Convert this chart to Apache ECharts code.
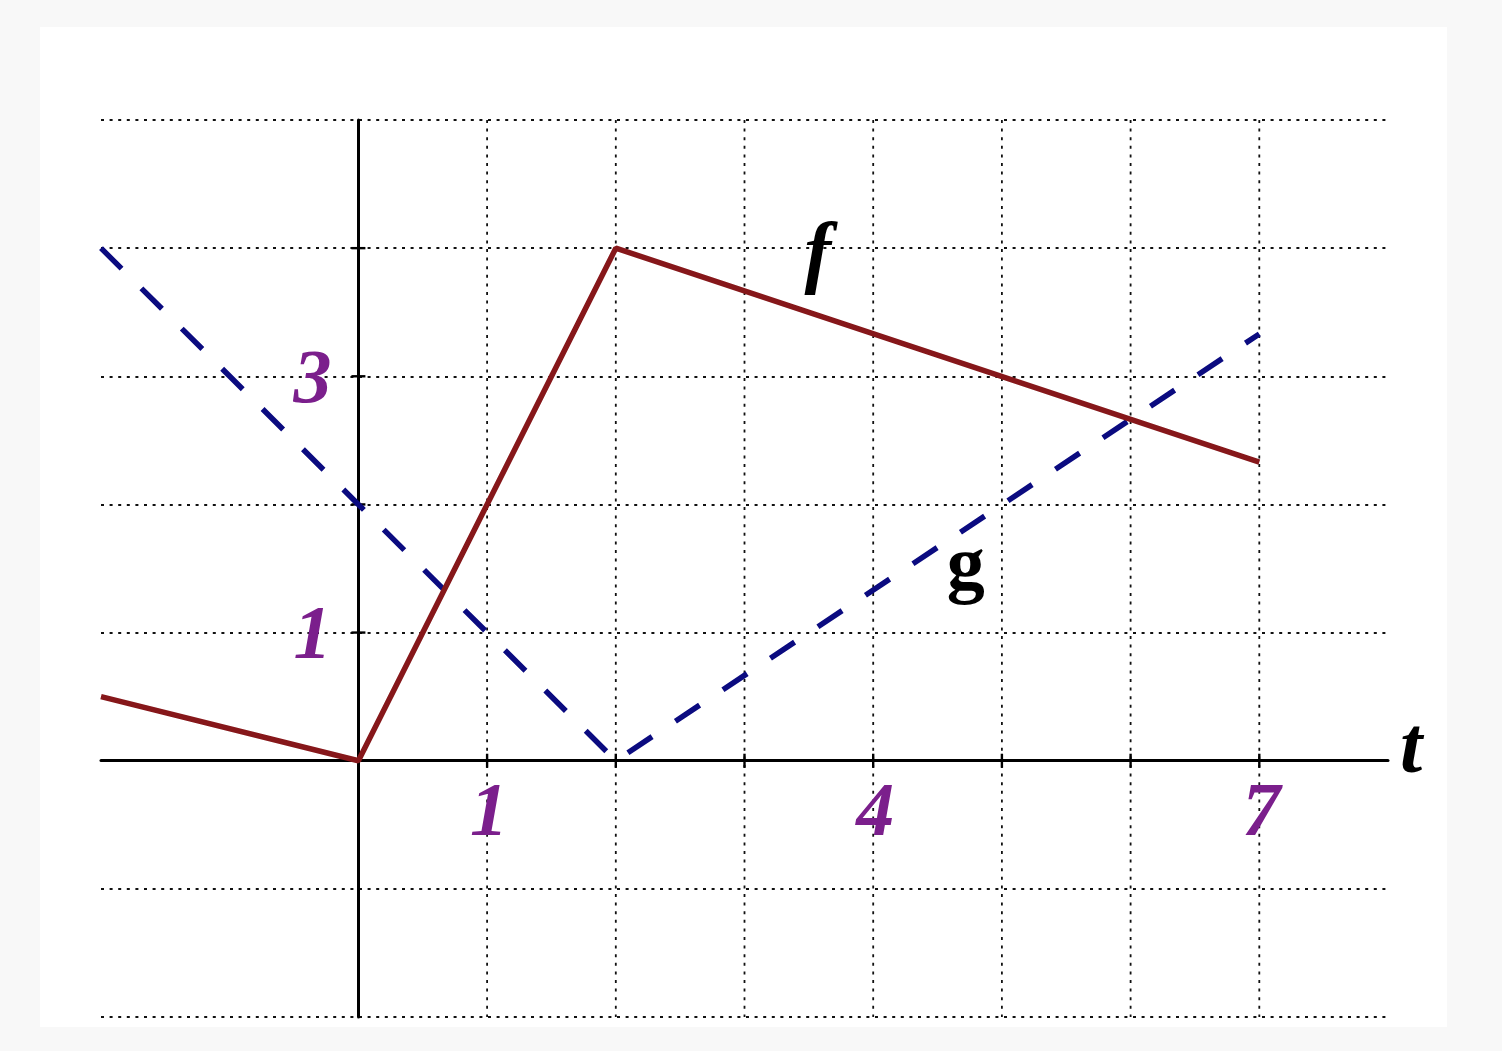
<!DOCTYPE html>
<html>
<head>
<meta charset="utf-8">
<script src="https://cdn.jsdelivr.net/npm/echarts@6/dist/echarts.min.js"></script>
<style>
html,body{margin:0;padding:0;width:1502px;height:1051px;background:#f8f8f8;overflow:hidden;}
#panel{position:absolute;left:40px;top:27px;width:1407px;height:1000px;background:#ffffff;}
#chart{position:absolute;left:0;top:0;width:1502px;height:1051px;}
</style>
</head>
<body>
<div id="panel"></div>
<div id="chart"></div>
<script>
// ---- data ----
const fX = [-2, 0, 2, 7];
const fY = [0.5, 0, 4, 2.33];
const gX = [-2, 0, 2, 7];
const gY = [4, 2, 0, 3.33];
const xLabeled = [1, 4, 7];
const yLabeled = [1, 3];
const xGridLines = [1, 2, 3, 4, 5, 6, 7];
const xTicks = [1, 2, 3, 4, 5, 6, 7];
const yTicks = [1, 2, 3, 4];
const annoText = ['f', 'g', 't'];
const annoX = [3.57, 4.72, 8.18];
const annoY = [3.93, 1.49, 0.07];
const xMin = -2, xMax = 8, yMin = -2, yMax = 5;

// ---- styles ----
const purple = '#7b1f8c';
const labelFont = {fontFamily: 'Liberation Serif', fontStyle: 'italic', fontWeight: 'bold', fontSize: 76, color: purple};
const annoStyles = [
  {fontFamily: 'Liberation Serif', fontStyle: 'italic', fontWeight: 'bold', fontSize: 80, color: '#000'},
  {fontFamily: 'Liberation Serif', fontStyle: 'normal', fontWeight: 'bold', fontSize: 76, color: '#000'},
  {fontFamily: 'Liberation Serif', fontStyle: 'italic', fontWeight: 'bold', fontSize: 80, color: '#000'}
];
const dotted = {stroke: '#111', lineWidth: 1.8, lineDash: [3, 5.6]};

const chart = echarts.init(document.getElementById('chart'), null, {renderer: 'canvas'});

const option = {
  animation: false,
  backgroundColor: 'transparent',
  grid: {left: 101, right: 114, top: 120, bottom: 34, containLabel: false, outerBoundsMode: 'none'},
  xAxis: {
    type: 'value', min: xMin, max: xMax, interval: 1,
    axisLine: {show: true, onZero: true, lineStyle: {color: '#000', width: 3}},
    axisTick: {show: false},
    splitLine: {show: false},
    axisLabel: {show: false}
  },
  yAxis: {
    type: 'value', min: yMin, max: yMax, interval: 1,
    axisLine: {show: true, onZero: true, lineStyle: {color: '#000', width: 3}},
    axisTick: {show: false},
    splitLine: {show: true, lineStyle: {color: '#111', width: 1.8, type: [3, 5.6]}},
    axisLabel: {show: false}
  },
  series: [
    {
      type: 'custom', z: 1, silent: true,
      data: xGridLines.map(x => [x]),
      renderItem: (params, api) => {
        const x = api.value(0);
        const p1 = api.coord([x, yMax]);
        const p2 = api.coord([x, yMin]);
        return {type: 'line', shape: {x1: p1[0], y1: p1[1], x2: p2[0], y2: p2[1]}, style: dotted};
      }
    },
    {
      type: 'custom', z: 3, silent: true,
      data: xTicks.map(x => [x, 0]),
      renderItem: (params, api) => {
        const p = api.coord([api.value(0), api.value(1)]);
        return {type: 'line', shape: {x1: p[0], y1: p[1] - 7, x2: p[0], y2: p[1] + 7}, style: {stroke: '#000', lineWidth: 2.4}};
      }
    },
    {
      type: 'custom', z: 3, silent: true,
      data: yTicks.map(y => [0, y]),
      renderItem: (params, api) => {
        const p = api.coord([api.value(0), api.value(1)]);
        return {type: 'line', shape: {x1: p[0] - 7, y1: p[1], x2: p[0] + 7, y2: p[1]}, style: {stroke: '#000', lineWidth: 2.4}};
      }
    },
    {
      name: 'f', type: 'line', z: 5, showSymbol: false, silent: true,
      data: fX.map((x, i) => [x, fY[i]]),
      lineStyle: {color: '#86171a', width: 5.5}
    },
    {
      name: 'g', type: 'line', z: 4, showSymbol: false, silent: true,
      data: gX.map((x, i) => [x, gY[i]]),
      lineStyle: {color: '#0b0b80', width: 5.5, type: [29, 28], cap: 'butt'}
    },
    {
      // x tick labels
      type: 'scatter', z: 6, silent: true, symbolSize: 0, clip: false, itemStyle: {opacity: 1},
      data: xLabeled.map(v => ({name: String(v), value: [v, 0]})),
      label: Object.assign({show: true, position: 'inside', offset: [2, 55], formatter: '{b}'}, labelFont)
    },
    {
      // y tick labels
      type: 'scatter', z: 6, silent: true, symbolSize: 0, clip: false, itemStyle: {opacity: 1},
      data: yLabeled.map(v => ({name: String(v), value: [0, v]})),
      label: Object.assign({show: true, position: 'left', distance: 27, offset: [0, 6], formatter: '{b}'}, labelFont)
    },
    {
      type: 'scatter', z: 6, silent: true, symbolSize: 0, clip: false, itemStyle: {opacity: 1},
      data: annoText.map((t, i) => ({
        name: t, value: [annoX[i], annoY[i]],
        label: Object.assign({show: true, position: 'inside', formatter: '{b}'}, annoStyles[i])
      }))
    }
  ]
};
chart.setOption(option);
</script>
</body>
</html>
